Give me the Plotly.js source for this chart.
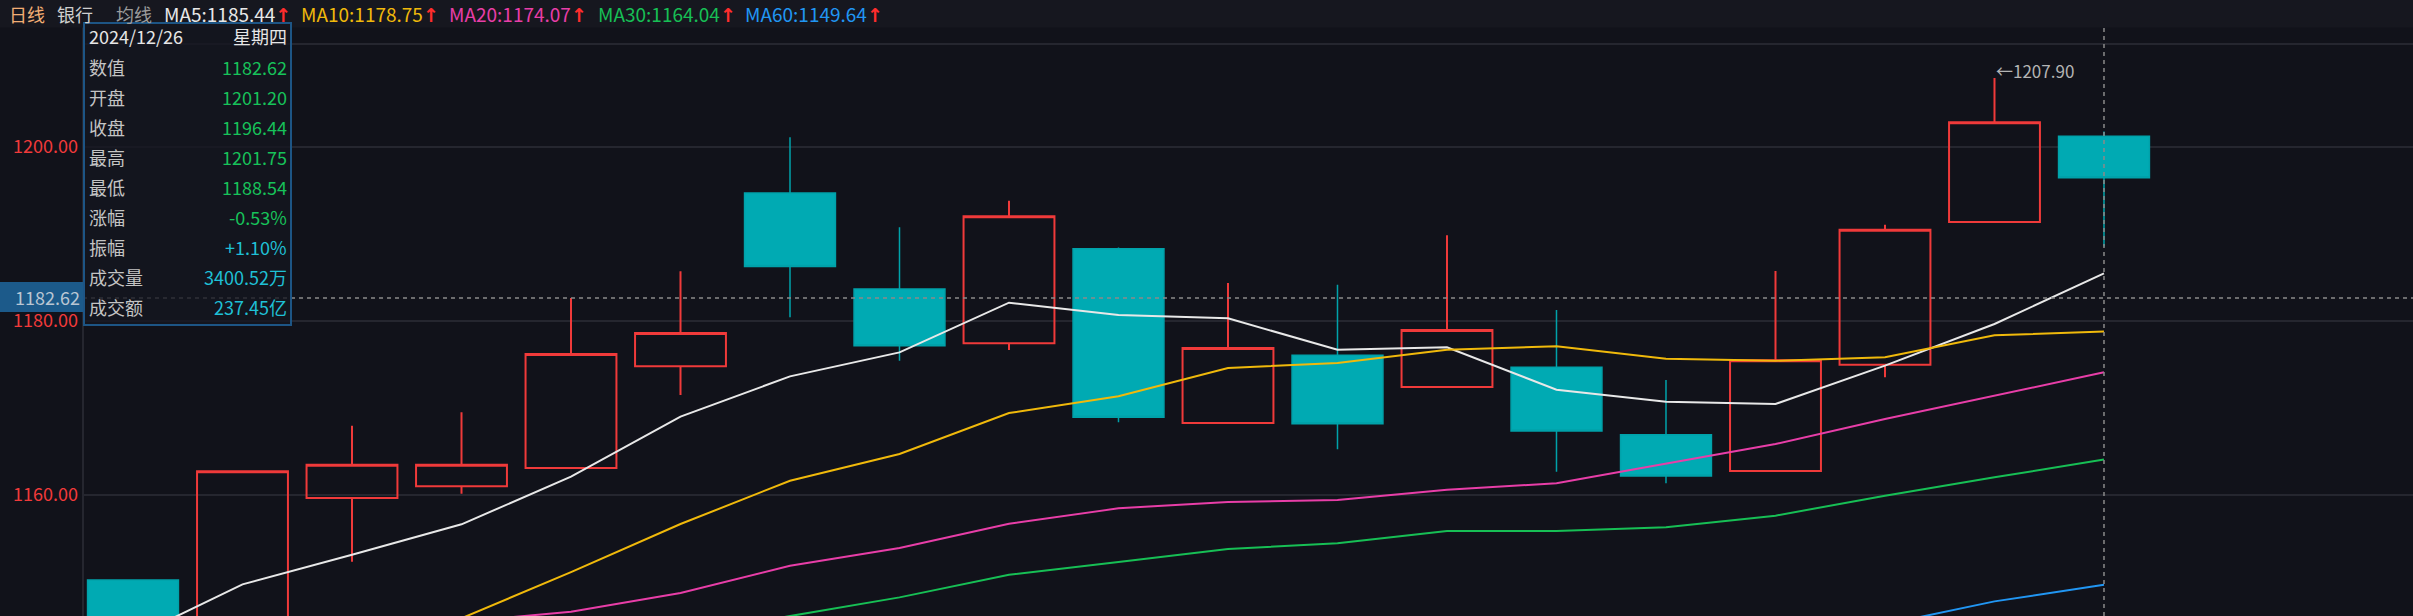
<!DOCTYPE html>
<html><head><meta charset="utf-8">
<script src="https://cdn.plot.ly/plotly-3.0.1.min.js"></script>
<style>html,body{margin:0;padding:0;background:#11121a;overflow:hidden}#chart{width:2413px;height:616px}</style>
</head><body><div id="chart"></div>
<script>
// ---- data ----
const dates = ['2024/12/02','2024/12/03','2024/12/04','2024/12/05','2024/12/06','2024/12/09','2024/12/10','2024/12/11','2024/12/12','2024/12/13','2024/12/16','2024/12/17','2024/12/18','2024/12/19','2024/12/20','2024/12/23','2024/12/24','2024/12/25','2024/12/26'];
const openP  = [1150.20,1143.80,1159.62,1160.97,1163.07,1174.76,1194.68,1183.64,1177.40,1188.28,1168.24,1176.02,1172.38,1174.64,1166.90,1162.72,1174.94,1191.34,1201.20];
const highP  = [1150.20,1162.80,1167.93,1169.47,1182.61,1185.68,1201.08,1190.73,1193.80,1188.40,1184.33,1184.14,1189.82,1181.23,1173.18,1185.71,1191.03,1207.90,1201.75];
const lowP   = [1144.00,1143.00,1152.30,1160.10,1163.07,1171.46,1180.39,1175.40,1176.63,1168.32,1168.24,1165.22,1172.38,1162.64,1161.31,1162.72,1173.49,1191.34,1188.54];
const closeP = [1144.60,1162.70,1163.45,1163.45,1176.17,1178.59,1186.23,1177.13,1192.00,1168.90,1176.86,1168.17,1178.93,1167.32,1162.15,1175.45,1190.46,1202.82,1196.44];
const ma5  = [1143.60,1149.70,1153.10,1156.60,1162.07,1168.97,1173.60,1176.36,1182.07,1180.66,1180.27,1176.67,1176.94,1172.07,1170.69,1170.43,1174.83,1179.62,1185.44];
const ma10 = [null,null,1142.50,1145.80,1151.10,1156.63,1161.61,1164.68,1169.39,1171.31,1174.56,1175.14,1176.67,1177.06,1175.63,1175.40,1175.79,1178.32,1178.75];
const ma20 = [null,null,null,1145.40,1146.55,1148.70,1151.84,1153.87,1156.67,1158.43,1159.16,1159.39,1160.57,1161.31,1163.53,1165.83,1168.70,1171.38,1174.07];
const ma30 = [null,null,null,null,null,1144.00,1146.05,1148.20,1150.80,1152.26,1153.76,1154.41,1155.83,1155.83,1156.25,1157.59,1159.89,1162.00,1164.04];
const ma60 = [null,null,null,null,null,null,null,null,null,null,null,null,null,null,null,null,1145.10,1147.74,1149.64];
const yTicks = [1160, 1180, 1200];
const cursorValue = 1182.62;
const maNames  = ['MA5','MA10','MA20','MA30','MA60'];
const maLast   = ['1185.44','1178.75','1174.07','1164.04','1149.64'];
const tipLabels = ['数值','开盘','收盘','最高','最低','涨幅','振幅','成交量','成交额'];
const tipValues = ['1182.62','1201.20','1196.44','1201.75','1188.54','-0.53%','+1.10%','3400.52万','237.45亿'];
const tipDate = '2024/12/26';
const tipWeekday = '星期四';
const highLabel = '←1207.90';

// ---- styling / layout helpers ----
const FONT = '"Noto Sans CJK SC", "Noto Sans", sans-serif';
const BG = '#11121a';
const GRID = '#25262f';
const RED = '#f03a3a';
const CYAN = '#00aab3';
const maColors = ['#e8e8e8','#f0b90b','#e83ea8','#17bf55','#2196f3'];
const tipColors = ['#17c25a','#17c25a','#17c25a','#17c25a','#17c25a','#17c25a','#1fc0d6','#1fc0d6','#1fc0d6'];
const W = 2413, H = 616, L = 83;
const PW = W - L;
const xp = px => (px - L) / PW;
const yp = py => 1 - py / H;

const traces = [{
  type: 'candlestick', x: dates, open: openP, high: highP, low: lowP, close: closeP,
  increasing: {line: {color: RED, width: 2}, fillcolor: 'rgba(0,0,0,0)'},
  decreasing: {line: {color: '#00a2aa', width: 1.5}, fillcolor: CYAN},
  whiskerwidth: 0, hoverinfo: 'skip', showlegend: false
}];
[ma5, ma10, ma20, ma30, ma60].forEach((arr, i) => {
  traces.push({type: 'scatter', mode: 'lines', x: dates, y: arr, line: {color: maColors[i], width: 2}, hoverinfo: 'skip', showlegend: false, connectgaps: false});
});

const shapes = [
  {type: 'rect', xref: 'paper', yref: 'paper', x0: xp(0), x1: 1, y0: yp(27.5), y1: 1, fillcolor: '#16171f', line: {width: 0}, layer: 'below'},
  {type: 'line', xref: 'paper', yref: 'paper', x0: 0, x1: 1, y0: yp(44), y1: yp(44), line: {color: GRID, width: 2}},
  {type: 'line', xref: 'paper', yref: 'paper', x0: 0, x1: 0, y0: 0, y1: yp(27.5), line: {color: GRID, width: 2}},
  {type: 'line', xref: 'x', yref: 'paper', x0: dates[18], x1: dates[18], y0: 0, y1: yp(27.5), line: {color: '#8a8a8a', width: 1.5, dash: '4px,4px'}},
  {type: 'line', xref: 'paper', yref: 'y', x0: 0, x1: 1, y0: cursorValue, y1: cursorValue, line: {color: '#8a8a8a', width: 1.5, dash: '4px,4px'}},
  {type: 'rect', xref: 'paper', yref: 'paper', x0: xp(0), x1: xp(83), y0: yp(312), y1: yp(282), fillcolor: '#1c5a8a', line: {width: 0}},
  {type: 'rect', xref: 'paper', yref: 'paper', x0: xp(84), x1: xp(291), y0: yp(325), y1: yp(23), fillcolor: 'rgba(20,22,32,0.78)', line: {color: '#1d5585', width: 2}}
];

const annotations = [];
function txt(text, px, py, color, anchor, size) {
  annotations.push({xref: 'paper', yref: 'paper', x: xp(px), y: yp(py), text: text, showarrow: false,
    xanchor: anchor || 'left', yanchor: 'middle', font: {family: FONT, size: size || 18, color: color}, borderpad: 0});
}
// header
txt('日线', 8, 14, '#f2ad74');
txt('银行', 56, 14, '#cfcfcf');
txt('均线', 115, 14, '#9c9c9c');
const maX = [163, 300, 448, 597, 744];
maNames.forEach((n, i) => {
  txt(n + ':' + maLast[i] + '<span style="color:#ff2d2d;font-family:\'DejaVu Sans\';font-weight:bold">↑</span>', maX[i], 14, maColors[i], 'left', 19);
});
// tooltip
txt(tipDate, 88, 36, '#e6e6e6');
txt(tipWeekday, 288, 36, '#e6e6e6', 'right');
tipLabels.forEach((lab, i) => {
  const py = 66.7 + i * 30;
  txt(lab, 88, py, '#c4c4c4');
  txt(tipValues[i], 288, py, tipColors[i], 'right');
});
// cursor price label
txt(cursorValue.toFixed(2), 81, 297, '#b9c6d3', 'right');
// high label
annotations.push({xref: 'x', yref: 'y', x: dates[17], y: highP[17], text: highLabel, showarrow: false,
  xanchor: 'left', yanchor: 'middle', xshift: 1, yshift: 7, font: {family: FONT, size: 17, color: '#b4b4b4'}, borderpad: 0});

const layout = {
  width: W, height: H,
  margin: {l: L, r: 0, t: 0, b: 0, pad: 0},
  paper_bgcolor: BG, plot_bgcolor: BG,
  showlegend: false,
  boxgap: 0.17, boxgroupgap: 0,
  xaxis: {type: 'category', range: [-0.4566, 20.822], showgrid: false, zeroline: false, showticklabels: false,
    ticks: '', showline: false, rangeslider: {visible: false}, fixedrange: true},
  yaxis: {range: [1146.06, 1216.86], tickvals: yTicks, ticktext: yTicks.map(v => v.toFixed(2)),
    showgrid: true, gridcolor: GRID, gridwidth: 2, zeroline: false, showline: false, ticks: '',
    tickfont: {family: FONT, size: 18, color: RED}, ticklabelstandoff: 4, fixedrange: true},
  shapes: shapes, annotations: annotations
};
Plotly.newPlot('chart', traces, layout, {displayModeBar: false, staticPlot: true});
</script></body></html>
